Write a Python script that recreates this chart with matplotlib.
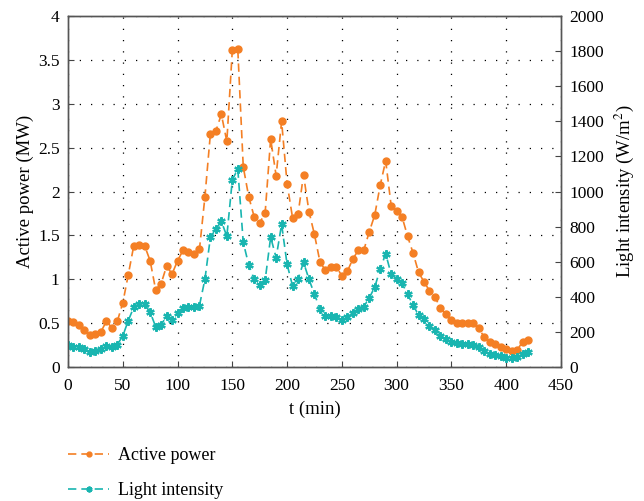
import matplotlib
matplotlib.use('Agg')
import matplotlib.pyplot as plt
from matplotlib.ticker import FuncFormatter

plt.rcParams['font.family'] = ['Liberation Serif', 'DejaVu Serif']
plt.rcParams['mathtext.fontset'] = 'stix'

# sampling times (min)
t = [0, 5, 10, 15, 20, 25, 30, 35, 40, 45, 50, 55, 60, 65, 70, 75, 80, 85, 90, 95,
     100, 105, 110, 115, 120, 125, 130, 135, 140, 145, 150, 155, 160, 165, 170, 175,
     180, 185, 190, 195, 200, 205, 210, 215, 220, 225, 230, 235, 240, 245, 250, 255,
     260, 265, 270, 275, 280, 285, 290, 295, 300, 305, 310, 315, 320, 325, 330, 335,
     340, 345, 350, 355, 360, 365, 370, 375, 380, 385, 390, 395, 400, 405, 410, 415, 420]

# active power (MW)
power = [0.52, 0.51, 0.48, 0.42, 0.36, 0.38, 0.40, 0.52, 0.45, 0.52, 0.73, 1.05, 1.38, 1.39,
         1.38, 1.21, 0.88, 0.95, 1.15, 1.06, 1.21, 1.33, 1.31, 1.29, 1.34, 1.94, 2.66, 2.69,
         2.88, 2.57, 3.61, 3.62, 2.28, 1.94, 1.71, 1.64, 1.76, 2.60, 2.18, 2.80, 2.09, 1.70,
         1.74, 2.19, 1.77, 1.51, 1.20, 1.10, 1.14, 1.14, 1.04, 1.09, 1.23, 1.33, 1.33, 1.54,
         1.73, 2.07, 2.35, 1.84, 1.78, 1.71, 1.49, 1.30, 1.08, 0.97, 0.87, 0.80, 0.67, 0.60,
         0.53, 0.50, 0.50, 0.50, 0.50, 0.44, 0.34, 0.28, 0.26, 0.23, 0.21, 0.18, 0.19, 0.29, 0.31]

# light intensity (W/m^2)
light = [125, 116, 112, 101, 87, 91, 101, 121, 116, 127, 177, 264, 340, 361, 357, 312, 230,
         239, 291, 268, 309, 334, 340, 340, 350, 500, 740, 785, 830, 745, 1066, 1128, 710,
         581, 499, 466, 496, 740, 623, 813, 585, 462, 500, 597, 500, 414, 332, 291, 291, 285,
         268, 282, 308, 329, 344, 393, 455, 557, 646, 529, 503, 477, 415, 353, 296, 272, 234,
         211, 177, 158, 144, 135, 133, 129, 127, 114, 93, 76, 66, 61, 53, 50, 59, 72, 85]

ORANGE = '#f47f24'
TEAL = '#19b5b0'

fig = plt.figure(figsize=(6.44, 5.01), dpi=100)
ax = fig.add_axes([0.1056, 0.2675, 0.7654, 0.7005])
ax2 = ax.twinx()

l1, = ax.plot(t, power, ls=(0, (5, 3)), lw=1.2, color=ORANGE, marker='o', ms=5,
              label='Active power')
l2, = ax2.plot(t, light, ls=(0, (5, 3)), lw=1.2, color=TEAL, marker=(6, 2, 0), ms=6,
               mew=1.6, label='Light intensity')

ax.set_xlim(0, 450)
ax.set_ylim(0, 4)
ax2.set_ylim(0, 2000)
ax.set_xticks(range(0, 451, 50))
ax.set_yticks([0, 0.5, 1, 1.5, 2, 2.5, 3, 3.5, 4])
ax2.set_yticks(range(0, 2001, 200))
ax.yaxis.set_major_formatter(FuncFormatter(lambda v, p: f'{v:g}'))

ax.grid(True, color='black', ls=(0, (1, 8)), lw=0.9)
for a in (ax, ax2):
    a.tick_params(direction='in', length=4, labelsize=12.5, color='#444', pad=6)
    for s in a.spines.values():
        s.set_color('#555')
        s.set_linewidth(1.0)
ax.tick_params(axis='x', pad=8)

ax.set_xlabel('t (min)', fontsize=13.5, labelpad=5)
ax.set_ylabel('Active power (MW)', fontsize=13.5, labelpad=3)
ax2.set_ylabel('Light intensity (W/m$^2$)', fontsize=13.5, labelpad=6)

fig.legend(handles=[l1, l2], loc='upper left', bbox_to_anchor=(0.08, 0.14),
           frameon=False, fontsize=13, handlelength=2.3, handletextpad=0.5,
           labelspacing=1.0, markerscale=0.7)

fig.savefig('out.png', dpi=100)
